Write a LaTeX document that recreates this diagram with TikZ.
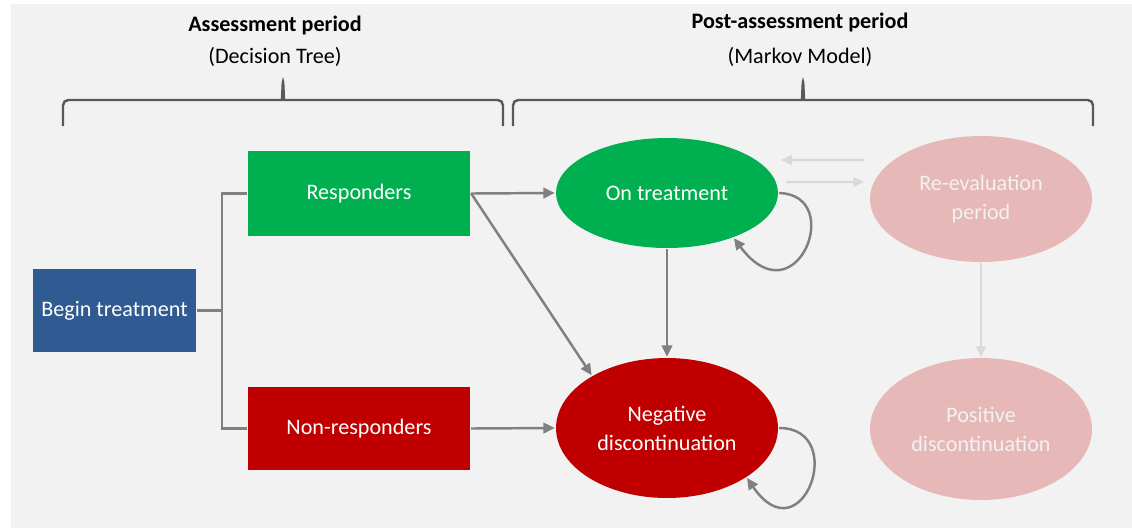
\documentclass[tikz,border=0pt]{standalone}
\usepackage{fontspec}
\setmainfont{Carlito}
\usetikzlibrary{arrows.meta,shapes.geometric}
\definecolor{panel}{RGB}{242,242,242}
\definecolor{ink}{RGB}{89,89,89}
\definecolor{wire}{RGB}{128,128,128}
\definecolor{faintwire}{RGB}{217,217,217}
\definecolor{startblue}{RGB}{47,90,146}
\definecolor{okgreen}{RGB}{0,176,80}
\definecolor{badred}{RGB}{192,0,0}
\definecolor{palepink}{RGB}{230,184,183}
\tikzset{
  every picture/.style={line width=1.4pt, font=\fontsize{12.6}{16.5}\selectfont},
  box/.style={rectangle, text=white, inner sep=0pt, minimum width=4.44cm, minimum height=1.7cm, align=center},
  state/.style={ellipse, text=white, inner sep=0pt, minimum width=4.44cm, align=center},
  head/.style={font=\fontsize{12.6}{15}\selectfont\bfseries, text=black},
  subhead/.style={text=black},
  bracket/.style={draw=ink, line width=1.4pt, rounded corners=3pt},
  tree/.style={draw=wire},
  flow/.style={draw=wire, -{Triangle[length=6.5pt,width=6pt]}},
  faint/.style={draw=faintwire, -{Triangle[length=6pt,width=5.5pt]}},
}

\begin{document}
\begin{tikzpicture}[x=0.02cm, y=-0.02cm]
  \useasboundingbox (0,0) rectangle (1132,528);
  \fill[panel] (11,4) rectangle (1132,528);

  \node[head] (lefthead) at (275,25) {Assessment period};
  \node[subhead] (leftsub) at (275,57) {(Decision Tree)};
  \node[head] (righthead) at (800,22) {Post-assessment period};
  \node[subhead] (rightsub) at (800,57) {(Markov Model)};

  \draw[bracket] (63,126) -- (63,100) -- (277,100) .. controls (282,100) .. (283,79) .. controls (284,100) .. (289,100) -- (503,100) -- (503,126);
  \draw[bracket] (513,126) -- (513,100) -- (797,100) .. controls (802,100) .. (803,79) .. controls (804,100) .. (809,100) -- (1093,100) -- (1093,126);

  \node[box, fill=startblue, minimum width=3.26cm, minimum height=1.66cm] (begin) at (114.5,310.5) {Begin treatment};
  \node[box, fill=okgreen] (resp) at (359,193.5) {Responders};
  \node[box, fill=badred, minimum height=1.66cm] (nonresp) at (359,428.5) {Non-responders};

  \node[state, fill=okgreen, minimum height=2.2cm] (ontreat) at (667,193) {On treatment};
  \node[state, fill=badred, minimum height=2.8cm] (negdisc) at (667,428) {Negative\\discontinuation};
  \node[state, fill=palepink, text=panel, minimum height=2.52cm] (reeval) at (981,199) {Re-evaluation\\period};
  \node[state, fill=palepink, text=panel, minimum height=2.84cm] (posdisc) at (981,429) {Positive\\discontinuation};

  \coordinate (fork) at (222,310.5);
  \draw[tree] (begin.east) -- (fork);
  \draw[tree] (resp.west) -| (fork) |- (nonresp.west);

  \draw[flow] (resp.east) -- (ontreat.west);
  \draw[flow] (resp.east) -- (negdisc.145);
  \draw[flow] (nonresp.east) -- (negdisc.west);
  \draw[flow] (ontreat.south) -- (negdisc.north);
  \draw[flow] (ontreat.east) .. controls +(67,2) and +(62,83) .. (ontreat.-34);
  \draw[flow] (negdisc.east) .. controls +(70,0) and +(55,80) .. (negdisc.-32);

  \draw[faint] ([xshift=-0.1cm, yshift=0.78cm]reeval.west) -- ([xshift=0.04cm, yshift=0.66cm]ontreat.east);
  \draw[faint] ([xshift=0.14cm, yshift=0.22cm]ontreat.east) -- ([xshift=-0.1cm, yshift=0.34cm]reeval.west);
  \draw[faint] (reeval.south) -- (posdisc.north);
\end{tikzpicture}
\end{document}
